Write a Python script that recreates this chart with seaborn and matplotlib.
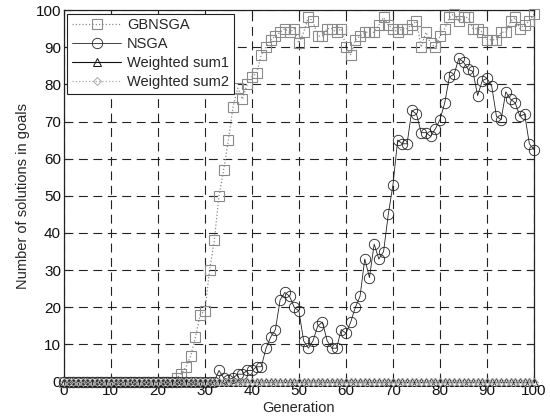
import numpy as np
import pandas as pd
import matplotlib
matplotlib.use("Agg")
import matplotlib.pyplot as plt
import seaborn as sns

generations = list(range(0, 101))

gbnsga = [0]*24 + [1, 2, 4, 7, 12, 18, 19, 30, 38, 50, 57, 65, 74, 79, 76, 80, 82, 83,
                   88, 90, 92, 93, 94, 95, 94, 95, 91, 94, 98, 97, 93, 93, 95, 95, 94, 95,
                   90, 88, 92, 93, 94, 94, 94, 96, 98, 96, 95, 94, 95, 95, 96, 97, 90, 94,
                   91, 90, 93, 95, 98, 99, 97, 98, 98, 95, 95, 94, 92, 92, 92, 94, 94, 97,
                   98, 95, 96, 97, 99]

nsga = [0]*33 + [3, 1, 0.5, 1, 2, 2, 3, 3, 4, 4, 9, 12, 14, 22, 24, 23, 20, 19, 11, 9, 11,
                 15, 16, 11, 9, 9, 14, 13, 16, 20, 23, 33, 28, 37, 33, 35, 45, 53, 65, 64,
                 64, 73, 72, 67, 67, 66, 68, 70.5, 75, 82, 82.7, 87, 86, 84, 83.5, 77, 81,
                 81.6, 79.5, 71.4, 70.5, 78, 76, 75, 71.4, 72, 64, 62.4]

wsum1 = [0]*101
wsum2 = [0]*101

series_names = ["GBNSGA", "NSGA", "Weighted sum1", "Weighted sum2"]

sns.set_style("ticks")
plt.rcParams['font.family'] = ['Liberation Sans', 'DejaVu Sans']

fig = plt.figure(figsize=(5.5, 4.18), dpi=100)
ax = fig.add_axes([0.116, 0.087, 0.855, 0.889])

styles = [
    dict(color="#8a8a8a", ls=":", lw=0.9, marker="s", ms=6.5, mfc="none", mec="#8a8a8a", mew=0.8),
    dict(color="#222222", ls="-", lw=0.6, marker="o", ms=7.5, mfc="none", mec="#222222", mew=0.6),
    dict(color="#111111", ls="-", lw=0.8, marker="^", ms=5.5, mfc="none", mec="#111111", mew=0.7),
    dict(color="#aaaaaa", ls=":", lw=0.9, marker="D", ms=4.5, mfc="none", mec="#aaaaaa", mew=0.7),
]
data = [gbnsga, nsga, wsum1, wsum2]

for name, vals, st in zip(series_names, data, styles):
    df = pd.DataFrame({"Generation": generations, "value": vals})
    sns.lineplot(data=df, x="Generation", y="value", ax=ax, label=name,
                 clip_on=False, zorder=3, **st)

ax.set_xlim(0, 100)
ax.set_ylim(0, 100)
ax.set_xticks(np.arange(0, 101, 10))
ax.set_yticks(np.arange(0, 101, 10))
ax.tick_params(direction="in", labelsize=11, top=True, right=True, length=4, pad=2,
               labelcolor="#111111")
ax.grid(True, color="#222222", ls=(0, (8, 5)), lw=0.8)
for s in ax.spines.values():
    s.set_color("#222222")
    s.set_linewidth(0.9)
ax.set_xlabel("Generation", fontsize=10.5, labelpad=2)
ax.set_ylabel("Number of solutions in goals", fontsize=10.5, labelpad=4)

leg = ax.legend(loc="upper left", fontsize=10.5, handlelength=3.4, borderaxespad=0.25,
                frameon=True, fancybox=False, framealpha=1, edgecolor="#222222",
                labelspacing=0.35, borderpad=0.3, handletextpad=0.4)
leg.get_frame().set_linewidth(0.8)

fig.savefig("out.png", dpi=100)
